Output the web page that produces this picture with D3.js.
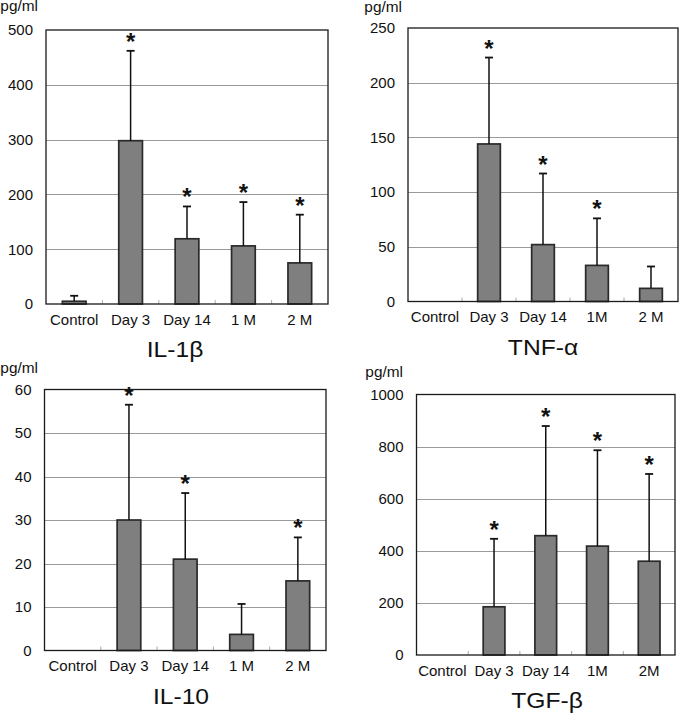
<!DOCTYPE html>
<html>
<head>
<meta charset="utf-8">
<script src="https://cdn.jsdelivr.net/npm/d3@7"></script>
<style>
  html, body { margin: 0; padding: 0; background: #fff; }
  svg { display: block; font-family: "Liberation Sans", Arial, sans-serif; }
</style>
</head>
<body>
<svg id="chart" width="680" height="715"></svg>
<script>
// ---------- DATA ----------
const categoriesA = ["Control", "Day 3", "Day 14", "1 M", "2 M"];
const categoriesB = ["Control", "Day 3", "Day 14", "1M", "2 M"];
const categoriesC = ["Control", "Day 3", "Day 14", "1M", "2M"];

const il1bMean = [5, 298, 119, 106, 75];
const il1bSD   = [15, 462, 178, 186, 163];      // upper end of error bar
const il1bSig  = [false, true, true, true, true];
const il1bTicks = [0, 100, 200, 300, 400, 500];

const tnfMean = [0, 144, 52, 33, 12];
const tnfSD   = [0, 223, 117, 76, 32];
const tnfSig  = [false, true, true, true, false];
const tnfTicks = [0, 50, 100, 150, 200, 250];

const il10Mean = [0, 30, 21, 3.7, 16];
const il10SD   = [0, 56.5, 36.2, 10.7, 26];
const il10Sig  = [false, true, true, false, true];
const il10Ticks = [0, 10, 20, 30, 40, 50, 60];

const tgfMean = [0, 185, 458, 418, 360];
const tgfSD   = [0, 446, 879, 786, 695];
const tgfSig  = [false, true, true, true, true];
const tgfTicks = [0, 200, 400, 600, 800, 1000];

const titles = ["IL-1β", "TNF-α", "IL-10", "TGF-β"];
const unitLabel = "pg/ml";

// ---------- LAYOUT ----------
const panels = [
  { cats: categoriesA, mean: il1bMean, top: il1bSD, sig: il1bSig, ticks: il1bTicks, title: titles[0],
    x0: 46, x1: 328, y0: 30, y1: 304, titleX: 175, unitX: 38, unitY: 11 },
  { cats: categoriesB, mean: tnfMean, top: tnfSD, sig: tnfSig, ticks: tnfTicks, title: titles[1],
    x0: 408, x1: 678, y0: 28, y1: 301.5, titleX: 543, unitX: 402, unitY: 12 },
  { cats: categoriesA, mean: il10Mean, top: il10SD, sig: il10Sig, ticks: il10Ticks, title: titles[2],
    x0: 44.5, x1: 326, y0: 389.5, y1: 650.5, titleX: 181, unitX: 38, unitY: 373 },
  { cats: categoriesC, mean: tgfMean, top: tgfSD, sig: tgfSig, ticks: tgfTicks, title: titles[3],
    x0: 416.5, x1: 675, y0: 394.5, y1: 655, titleX: 547, unitX: 403, unitY: 377 }
];

const svg = d3.select("#chart");
const FONT = "'Liberation Sans', Arial, sans-serif";

panels.forEach(p => {
  const g = svg.append("g");
  const x = d3.scaleBand().domain(p.cats).range([p.x0, p.x1])
    .paddingInner(0.58).paddingOuter(0.29);
  const y = d3.scaleLinear().domain([0, d3.max(p.ticks)]).range([p.y1, p.y0]);
  const step = x.step();

  // gridlines
  g.selectAll("line.grid").data(p.ticks.slice(1, -1)).enter().append("line")
    .attr("x1", p.x0).attr("x2", p.x1)
    .attr("y1", d => Math.round(y(d)) + 0.5).attr("y2", d => Math.round(y(d)) + 0.5)
    .attr("stroke", "#9a9a9a").attr("stroke-width", 1);

  // small category separator ticks on bottom axis
  g.selectAll("line.sep").data(d3.range(1, p.cats.length)).enter().append("line")
    .attr("x1", k => p.x0 + step * k).attr("x2", k => p.x0 + step * k)
    .attr("y1", p.y1).attr("y2", p.y1 - 4)
    .attr("stroke", "#aaa").attr("stroke-width", 1);

  // bars
  g.selectAll("rect.bar").data(p.mean).enter().append("rect")
    .attr("x", (d, i) => x(p.cats[i]))
    .attr("y", d => y(d))
    .attr("width", x.bandwidth())
    .attr("height", d => p.y1 - y(d))
    .attr("fill", d => d > 0 ? "#7f7f7f" : "none")
    .attr("stroke", d => d > 0 ? "#2a2a2a" : "none")
    .attr("stroke-width", 1.7);

  // error bars (upper only)
  const errs = p.mean.map((m, i) => ({ m, t: p.top[i], c: p.cats[i], s: p.sig[i] })).filter(d => d.t > d.m);
  g.selectAll("line.err").data(errs).enter().append("line")
    .attr("x1", d => x(d.c) + x.bandwidth() / 2).attr("x2", d => x(d.c) + x.bandwidth() / 2)
    .attr("y1", d => y(d.m)).attr("y2", d => y(d.t))
    .attr("stroke", "#111").attr("stroke-width", 1.5);
  g.selectAll("line.cap").data(errs).enter().append("line")
    .attr("x1", d => x(d.c) + x.bandwidth() / 2 - 4).attr("x2", d => x(d.c) + x.bandwidth() / 2 + 4)
    .attr("y1", d => y(d.t)).attr("y2", d => y(d.t))
    .attr("stroke", "#111").attr("stroke-width", 1.8);

  // significance asterisks
  g.selectAll("text.sig").data(errs.filter(d => d.s)).enter().append("text")
    .attr("x", d => x(d.c) + x.bandwidth() / 2)
    .attr("y", d => y(d.t) - 1)
    .attr("text-anchor", "middle")
    .attr("font-size", 24).attr("font-weight", "bold").attr("fill", "#111")
    .attr("font-family", FONT)
    .text("*");

  // frame
  g.append("rect")
    .attr("x", p.x0).attr("y", p.y0)
    .attr("width", p.x1 - p.x0).attr("height", p.y1 - p.y0)
    .attr("fill", "none").attr("stroke", "#1a1a1a").attr("stroke-width", 1.3);

  // y axis labels
  const yAxis = g.append("g").attr("transform", `translate(${p.x0},0)`)
    .call(d3.axisLeft(y).tickValues(p.ticks).tickSize(0).tickPadding(13).tickFormat(d3.format("d")));
  yAxis.select(".domain").remove();
  yAxis.selectAll("text").attr("font-size", 15).attr("fill", "#111")
    .attr("font-family", FONT);

  // x axis labels
  const xAxis = g.append("g").attr("transform", `translate(0,${p.y1})`)
    .call(d3.axisBottom(x).tickSize(0).tickPadding(10));
  xAxis.select(".domain").remove();
  xAxis.selectAll("text").attr("font-size", 15).attr("fill", "#111")
    .attr("font-family", FONT);

  // unit label
  g.append("text")
    .attr("transform", `translate(${p.unitX},${p.unitY}) scale(1.1,1)`)
    .attr("text-anchor", "end").attr("font-size", 14).attr("fill", "#111")
    .attr("font-family", FONT)
    .text(unitLabel);

  // title
  g.append("text")
    .attr("transform", `translate(${p.titleX},${p.y1 + 53}) scale(1.12,1)`)
    .attr("text-anchor", "middle").attr("font-size", 22).attr("fill", "#111")
    .attr("font-family", FONT)
    .text(p.title);
});
</script>
</body>
</html>
